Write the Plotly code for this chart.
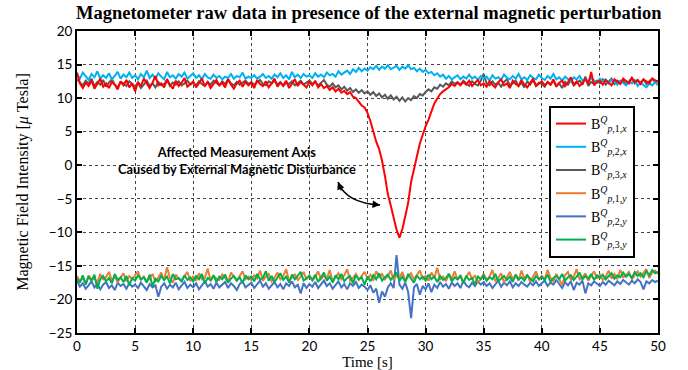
import plotly.graph_objects as go

STEP = 0.25  # sampling step of the read-off values [s]

b1x = [
    13.8, 12.2, 11.5, 12.3, 11.8, 12.6, 11.4, 12.1, 12.9, 11.7, 12.2, 11.5, 12.4, 12.0, 11.3, 12.5, 11.9, 12.7, 11.6, 12.2,
    11.0, 12.4, 11.8, 12.9, 12.1, 11.5, 12.3, 13.3, 11.9, 12.2, 11.6, 12.8, 12.0, 11.4, 12.6, 11.8, 12.3, 13.0, 11.7, 12.1,
    12.5, 11.6, 12.2, 12.9, 11.8, 12.4, 11.5, 12.1, 12.7, 11.9, 12.3, 11.6, 12.8, 12.0, 11.4, 12.2, 12.6, 11.7, 12.4, 11.9,
    12.3, 11.5, 12.7, 12.1, 11.8, 12.5, 11.6, 12.2, 12.9, 11.7, 12.3, 11.9, 12.6, 11.5, 12.2, 12.8, 11.8, 12.4, 12.0, 11.6,
    12.4, 11.9, 12.6, 11.6, 12.1, 11.5, 11.8, 11.2, 11.6, 11.0, 11.4, 10.8, 11.1, 10.6, 10.9, 10.2, 10.0, 9.4, 8.9, 8.6,
    7.8, 6.6, 4.9, 3.5, 2.4, 0.7, -1.6, -4.3, -6.0, -7.9, -9.6, -10.8, -9.5, -7.6, -5.6, -2.5, -0.8, 1.3, 3.2, 4.6,
    5.8, 6.8, 8.0, 9.2, 9.9, 10.6, 11.0, 11.3, 11.6, 12.1, 11.8, 12.3, 11.9, 12.4, 12.0, 12.6, 11.8, 12.3, 12.7, 11.9,
    12.2, 11.7, 12.5, 12.0, 11.6, 12.4, 12.8, 11.9, 12.2, 11.5, 12.6, 12.1, 11.8, 12.7, 12.0, 11.6, 12.3, 12.9, 11.8, 12.2,
    12.5, 11.9, 12.4, 12.0, 12.8, 11.7, 12.3, 12.6, 11.8, 12.4, 13.1, 12.0, 12.5, 11.8, 12.2, 12.9, 12.1, 13.9, 11.9, 12.4,
    12.6, 12.0, 12.7, 12.3, 11.9, 12.8, 12.4, 12.1, 12.9, 12.5, 12.2, 13.0, 12.4, 12.7, 12.1, 12.8, 12.5, 12.2, 12.9, 12.6,
    12.4,
]

b2x = [
    13.5, 12.9, 13.8, 13.2, 12.7, 13.6, 13.1, 14.0, 12.9, 13.4, 13.0, 13.7, 12.8, 13.3, 13.9, 12.9, 13.5, 13.1, 13.8, 13.0,
    13.4, 12.8, 13.6, 13.1, 14.1, 13.0, 13.5, 12.9, 13.7, 13.2, 12.8, 13.9, 13.1, 13.4, 12.9, 13.6, 13.2, 13.8, 12.9, 13.3,
    13.7, 13.0, 13.4, 12.8, 13.6, 13.1, 12.9, 13.5, 13.0, 13.3, 12.8, 13.2, 13.0, 13.6, 12.9, 13.3, 13.1, 13.8, 12.9, 13.2,
    13.0, 13.4, 12.9, 13.2, 13.6, 13.0, 13.3, 12.9, 13.5, 13.1, 13.7, 13.0, 13.4, 12.8, 13.9, 13.1, 13.5, 13.0, 13.6, 13.2,
    13.4, 13.0, 13.7, 13.2, 13.5, 13.1, 13.8, 13.4, 13.6, 13.2, 14.0, 13.5, 13.8, 14.1, 13.6, 14.3, 13.9, 14.5, 14.0, 14.4,
    14.1, 14.6, 14.3, 14.8, 14.2, 14.7, 14.4, 14.9, 14.3, 14.6, 14.8, 14.2, 14.7, 14.4, 14.9, 14.3, 14.5, 14.0, 14.4, 13.9,
    14.2, 13.7, 13.9, 13.4, 13.7, 13.2, 13.5, 12.9, 13.3, 12.8, 13.1, 13.4, 12.8, 13.2, 12.9, 13.5, 12.9, 13.2, 12.7, 13.3,
    12.9, 13.2, 12.6, 13.4, 12.9, 13.1, 12.7, 13.5, 13.0, 12.8, 13.3, 12.9, 13.6, 12.8, 13.1, 12.7, 13.4, 13.0, 12.8, 13.5,
    13.0, 12.7, 13.3, 12.9, 13.6, 12.8, 13.1, 12.6, 13.2, 12.9, 12.5, 13.1, 12.8, 13.3, 12.6, 12.9, 12.4, 13.0, 12.7, 12.3,
    12.9, 12.5, 12.8, 12.2, 12.7, 12.4, 12.0, 12.6, 12.3, 11.9, 12.5, 12.2, 12.7, 11.8, 12.3, 12.0, 11.6, 12.2, 11.9, 12.4,
    11.9,
]

b3x = [
    12.8, 12.3, 11.9, 12.6, 12.1, 12.9, 11.8, 12.4, 12.0, 12.7, 11.7, 12.3, 12.8, 12.0, 11.6, 12.4, 12.2, 11.8, 12.5, 12.1,
    11.7, 12.3, 11.5, 12.0, 12.6, 11.8, 12.2, 11.6, 12.4, 11.9, 12.1, 12.7, 11.8, 12.3, 12.0, 12.5, 11.9, 12.2, 12.6, 12.0,
    12.3, 11.9, 12.5, 12.1, 11.8, 12.4, 12.0, 12.6, 12.2, 11.9, 12.5, 12.1, 12.8, 12.2, 11.9, 12.4, 12.0, 12.3, 12.6, 12.1,
    12.4, 12.0, 12.3, 12.7, 12.1, 11.9, 12.5, 12.2, 12.6, 12.0, 12.4, 11.8, 12.3, 12.1, 12.5, 11.9, 12.2, 12.6, 12.0, 12.3,
    12.6, 12.1, 12.4, 11.9, 12.3, 12.7, 12.0, 11.7, 12.2, 11.6, 11.9, 11.3, 11.7, 11.1, 11.5, 10.9, 11.3, 10.8, 11.2, 10.7,
    11.0, 10.5, 10.9, 10.3, 10.7, 10.1, 10.5, 9.9, 10.4, 9.8, 10.2, 9.6, 10.1, 9.5, 10.0, 9.7, 10.3, 10.0, 10.6, 10.4,
    10.9, 11.3, 11.0, 11.6, 11.4, 12.0, 11.7, 12.2, 11.9, 12.5, 12.1, 12.4, 12.0, 12.6, 12.2, 11.8, 12.5, 12.1, 11.9, 12.6,
    13.6, 12.2, 11.9, 12.5, 12.0, 12.3, 11.7, 12.4, 12.8, 11.9, 12.2, 12.6, 11.8, 12.3, 11.6, 12.5, 12.0, 12.7, 11.9, 12.3,
    12.1, 11.7, 12.4, 12.0, 12.6, 11.8, 12.2, 11.5, 12.4, 12.0, 12.7, 11.9, 12.3, 12.6, 12.0, 13.2, 11.8, 12.4, 12.1, 12.6,
    12.2, 12.8, 12.0, 12.5, 12.9, 12.1, 12.6, 12.3, 12.7, 12.0, 12.5, 13.0, 12.2, 12.6, 12.3, 12.8, 12.1, 12.5, 12.9, 12.4,
    12.6,
]

b1y = [
    -16.5, -17.3, -16.8, -17.6, -16.4, -17.1, -16.9, -17.5, -16.2, -17.0, -16.7, -15.9, -17.2, -16.6, -17.4, -16.8, -16.1, -17.3, -16.5, -17.0,
    -16.4, -15.8, -17.1, -16.6, -17.3, -16.9, -16.2, -17.4, -16.7, -16.0, -17.2, -15.2, -16.8, -17.5, -16.3, -16.9, -17.1, -16.5, -15.9, -17.3,
    -16.6, -17.2, -16.1, -17.0, -16.8, -15.4, -17.3, -16.5, -16.9, -17.1, -16.3, -16.8, -17.4, -16.0, -16.7, -17.2, -16.5, -15.8, -17.0, -16.6,
    -17.1, -16.4, -16.9, -15.7, -17.2, -16.6, -16.2, -17.3, -16.8, -16.0, -17.0, -16.5, -15.5, -17.2, -16.7, -16.3, -17.1, -16.6, -15.9, -17.0,
    -16.4, -17.2, -16.7, -15.8, -17.0, -16.5, -16.9, -15.6, -17.3, -16.6, -16.1, -17.0, -16.4, -15.5, -17.2, -16.8, -16.2, -17.1, -16.5, -15.9,
    -16.9, -16.3, -17.2, -15.8, -16.7, -16.2, -17.0, -16.5, -15.7, -17.1, -16.4, -16.8, -15.9, -17.2, -16.6, -16.1, -17.0, -16.4, -15.7, -16.9,
    -16.5, -17.2, -16.0, -16.8, -15.3, -17.0, -16.6, -17.3, -16.2, -16.9, -15.8, -17.1, -16.5, -17.4, -16.7, -15.9, -17.0, -16.4, -17.6, -16.8,
    -16.2, -17.1, -16.6, -15.6, -17.3, -16.8, -16.1, -17.5, -16.7, -15.9, -17.0, -16.4, -17.2, -15.7, -16.9, -16.3, -17.4, -16.6, -15.8, -17.1,
    -16.5, -17.0, -15.6, -16.8, -17.3, -16.2, -16.9, -17.8, -16.4, -15.9, -17.1, -16.6, -15.5, -17.0, -16.7, -16.1, -17.2, -16.5, -15.8, -16.9,
    -16.3, -17.1, -16.6, -15.7, -16.9, -16.2, -17.0, -15.6, -16.7, -16.4, -15.9, -17.0, -16.3, -15.8, -16.6, -16.1, -15.5, -16.8, -16.0, -15.7,
    -16.2,
]

b2y = [
    -17.2, -18.1, -17.6, -18.4, -17.9, -17.3, -18.2, -17.7, -18.5, -17.8, -17.4, -18.3, -17.9, -18.6, -17.5, -18.0, -17.7, -18.4, -17.6, -18.1,
    -17.8, -18.3, -17.5, -18.0, -18.6, -17.7, -18.2, -17.9, -19.6, -18.1, -17.6, -18.4, -17.8, -18.2, -17.5, -18.5, -17.9, -17.4, -18.3, -17.8,
    -18.2, -17.6, -18.5, -17.9, -17.3, -18.1, -17.7, -18.4, -17.5, -18.2, -17.8, -17.4, -18.3, -17.6, -18.0, -18.6, -17.7, -17.3, -18.2, -17.8,
    -17.5, -18.3, -17.8, -17.2, -18.1, -17.6, -18.4, -17.9, -17.4, -18.2, -17.7, -18.5, -17.6, -18.0, -17.3, -18.2, -17.8, -19.1, -17.6, -18.3,
    -17.7, -18.1, -17.4, -18.3, -17.8, -17.2, -18.0, -17.6, -18.4, -17.9, -17.3, -18.2, -17.7, -18.5, -17.6, -18.0, -17.4, -18.3, -17.8, -18.1,
    -18.6, -17.9, -19.0, -18.4, -20.5, -18.8, -19.6, -18.2, -17.6, -18.3, -13.4, -17.8, -18.4, -17.5, -18.9, -22.8, -18.2, -17.7, -19.3, -18.0,
    -18.5, -17.6, -18.9, -17.8, -18.3, -17.4, -18.1, -17.7, -18.4, -17.5, -18.0, -17.6, -18.3, -17.2, -17.9, -18.2, -17.5, -18.0, -17.3, -17.8,
    -17.4, -18.0, -17.6, -18.3, -17.7, -17.2, -18.1, -17.5, -17.9, -17.3, -18.2, -17.6, -18.0, -17.4, -17.8, -18.1, -17.5, -17.9, -17.3, -18.0,
    -17.6, -17.2, -18.0, -17.5, -17.8, -17.1, -17.7, -18.3, -17.4, -17.9, -17.3, -18.6, -17.5, -17.8, -17.2, -19.1, -17.6, -17.9, -17.3, -17.7,
    -18.0, -17.4, -17.8, -17.2, -17.6, -17.9, -17.3, -17.7, -17.1, -17.5, -17.8, -17.2, -17.6, -17.0, -17.4, -18.5, -17.3, -17.6, -17.1, -17.4,
    -17.2,
]

b3y = [
    -16.9, -17.5, -16.4, -17.8, -16.6, -17.2, -16.3, -18.4, -17.0, -16.5, -17.3, -16.8, -17.6, -16.2, -17.1, -16.7, -17.4, -16.5, -17.9, -16.8,
    -17.2, -16.4, -17.0, -16.7, -17.5, -16.3, -18.0, -16.9, -17.3, -16.5, -17.1, -16.6, -17.6, -16.2, -17.0, -16.8, -17.4, -16.4, -17.1, -16.7,
    -17.3, -16.5, -17.0, -16.2, -17.6, -16.8, -17.1, -16.4, -17.4, -16.6, -17.0, -16.3, -17.5, -16.9, -16.5, -17.2, -16.7, -17.6, -16.4, -17.0,
    -16.6, -17.3, -16.2, -17.0, -16.8, -15.8, -17.2, -16.5, -17.4, -16.7, -16.1, -17.1, -16.6, -17.5, -16.3, -17.0, -16.4, -15.9, -17.2, -16.8,
    -16.5, -17.1, -16.3, -17.4, -16.7, -16.0, -17.2, -16.6, -17.5, -16.4, -17.0, -16.2, -17.3, -16.8, -16.5, -17.6, -16.4, -17.0, -16.7, -17.8,
    -16.6, -17.3, -16.4, -17.0, -16.1, -17.2, -16.7, -16.3, -17.1, -16.5, -16.0, -17.2, -16.6, -17.4, -16.2, -16.9, -17.5, -16.4, -17.0, -16.6,
    -17.2, -16.3, -17.0, -16.6, -17.4, -16.5, -17.1, -16.8, -16.2, -17.3, -16.7, -17.0, -16.4, -17.6, -16.5, -17.1, -16.8, -17.8, -16.6, -17.0,
    -16.4, -17.2, -16.7, -17.0, -16.2, -17.3, -16.9, -16.5, -17.1, -16.6, -17.4, -16.3, -17.0, -16.7, -17.2, -16.4, -16.9, -17.3, -16.5, -17.0,
    -16.6, -17.1, -16.3, -17.4, -16.8, -16.5, -17.0, -16.2, -17.2, -16.7, -16.4, -17.1, -16.6, -16.0, -17.0, -16.5, -16.9, -16.2, -17.1, -16.4,
    -16.8, -16.3, -17.0, -16.5, -16.1, -16.9, -16.4, -16.7, -16.0, -16.6, -16.2, -16.8, -15.9, -16.5, -16.1, -16.7, -15.8, -16.4, -15.6, -16.1,
    -15.9,
]

names = [
    "B<sup><i>Q</i></sup><sub><i>p</i>,1,<i>x</i></sub>",
    "B<sup><i>Q</i></sup><sub><i>p</i>,2,<i>x</i></sub>",
    "B<sup><i>Q</i></sup><sub><i>p</i>,3,<i>x</i></sub>",
    "B<sup><i>Q</i></sup><sub><i>p</i>,1,<i>y</i></sub>",
    "B<sup><i>Q</i></sup><sub><i>p</i>,2,<i>y</i></sub>",
    "B<sup><i>Q</i></sup><sub><i>p</i>,3,<i>y</i></sub>",
]
colors = ["#ff0000", "#00b0f0", "#595959", "#ed7d31", "#4472c4", "#00b050"]
series = [b1x, b2x, b3x, b1y, b2y, b3y]
draw_order = [2, 1, 0, 4, 3, 5]

fig = go.Figure()
for k in draw_order:
    ys = series[k]
    xs = [round(i * STEP, 2) for i in range(len(ys))]
    fig.add_trace(go.Scatter(
        x=xs, y=ys, mode="lines", name=names[k], legendrank=k + 1,
        legendgroup=str(k),
        line=dict(color=colors[k], width=2),
    ))

serif = "Liberation Serif"
sans = "Lato"

axis_common = dict(
    showline=True, linecolor="black", linewidth=2, mirror="ticks",
    ticks="inside", ticklen=5, tickwidth=2, tickcolor="black",
    showgrid=True, gridcolor="#444", griddash="dot", gridwidth=1,
    zeroline=False, tickfont=dict(family=sans, size=13.5, color="black"),
    automargin=False,
)

fig.update_layout(
    width=688, height=370,
    margin=dict(l=77, r=30, t=31, b=37),
    paper_bgcolor="white", plot_bgcolor="white",
    title=dict(text="<b>Magnetometer raw data in presence of the external magnetic perturbation</b>",
               x=0.536, xanchor="center", y=0.965, yanchor="middle",
               font=dict(family=serif, size=18.5, color="black")),
    xaxis=dict(range=[0, 50], dtick=5, tick0=0,
               title=dict(text="Time [s]", font=dict(family=serif, size=15, color="black"), standoff=1),
               **axis_common),
    yaxis=dict(range=[-25, 20], dtick=5, tick0=-25,
               title=dict(text="Magnetic Field Intensity [<i>μ</i> Tesla]",
                          font=dict(family=serif, size=16, color="black"), standoff=16),
               **axis_common),
    legend=dict(x=0.8124, y=0.7517, xanchor="left", yanchor="top",
                bgcolor="white", bordercolor="black", borderwidth=2,
                font=dict(family=serif, size=14, color="black"),
                tracegroupgap=2, itemwidth=30),
    showlegend=True,
)

# curved double-headed arrow
fig.add_shape(type="path", xref="x", yref="y",
              path="M 22.46,-2.5 Q 23.15,-5.63 26.08,-5.93",
              line=dict(color="black", width=1.5))
fig.add_annotation(x=26.08, y=-5.93, xref="x", yref="y", text="", showarrow=True,
                   ax=-9, ay=-1, arrowhead=2, arrowsize=1, arrowwidth=1.5, arrowcolor="black")
fig.add_annotation(x=22.46, y=-2.5, xref="x", yref="y", text="", showarrow=True,
                   ax=4, ay=10, arrowhead=2, arrowsize=1, arrowwidth=1.5, arrowcolor="black")

fig.add_annotation(x=13.8, y=0.63, xref="x", yref="y", showarrow=False,
                   text="<b>Affected Measurement Axis<br>Caused by External Magnetic Disturbance</b>",
                   font=dict(family=sans, size=12.8, color="black"), align="center")

fig.write_html("out.html")
